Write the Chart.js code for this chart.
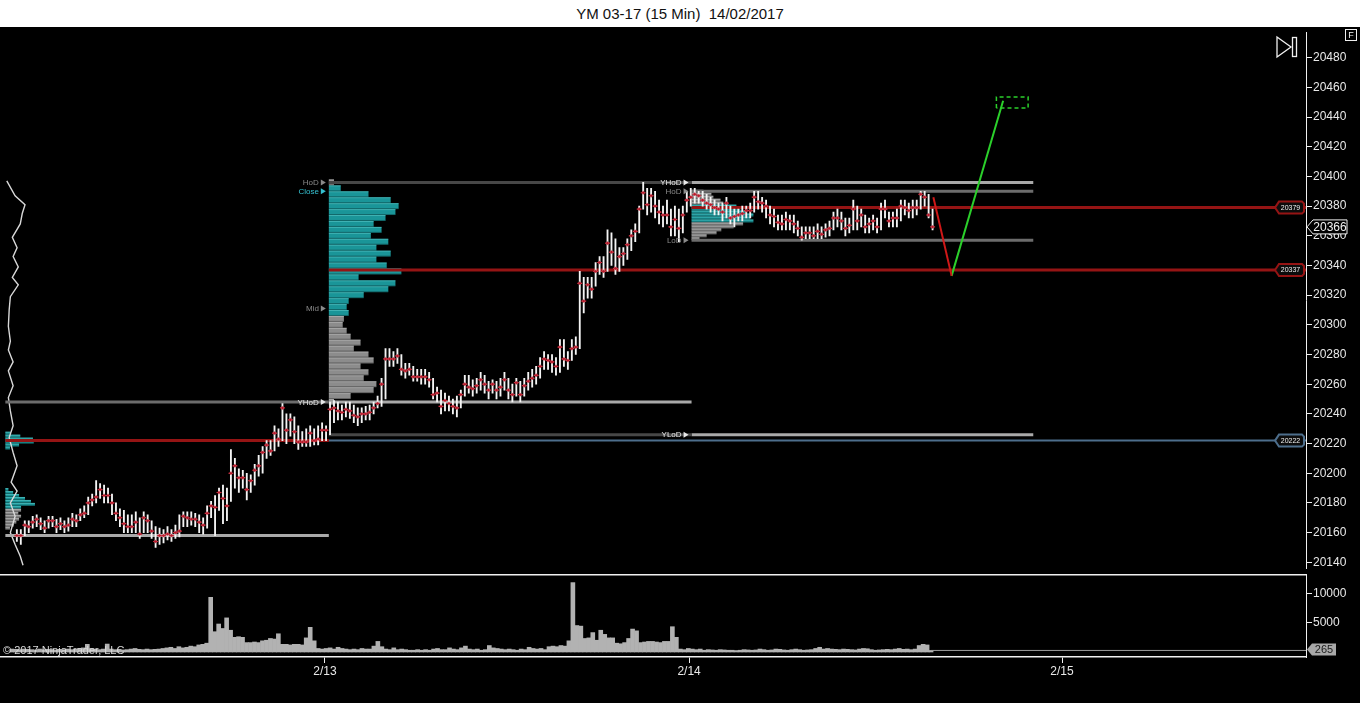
<!DOCTYPE html>
<html>
<head>
<meta charset="utf-8">
<title>YM 03-17 (15 Min)</title>
<script src="https://cdn.jsdelivr.net/npm/chart.js@4.4.1/dist/chart.umd.min.js"></script>
<style>
  html, body { margin: 0; padding: 0; background: #fff; }
  body { width: 1360px; height: 703px; position: relative; overflow: hidden; font-family: "Liberation Sans", Arial, sans-serif; }
  #title { position: absolute; left: 0; top: 0; width: 1360px; height: 27px; line-height: 27px; text-align: center; font-size: 15px; color: #111; white-space: pre; }
  #frame { position: absolute; left: 0; top: 27px; width: 1360px; height: 676px; background: #000; }
  #priceCanvas { position: absolute; left: 0; top: 0; }
  #volCanvas { position: absolute; left: 0; top: 547px; }
</style>
</head>
<body>
<div id="title">YM 03-17 (15 Min)  14/02/2017</div>
<div id="frame">
  <canvas id="priceCanvas" width="1360" height="547"></canvas>
  <canvas id="volCanvas" width="1360" height="129"></canvas>
</div>
<script>
// 15 min bars, 10/02 session (partial), 13/02 session, 14/02 session so far
const closes = [
  20158,20158,20165,20164,20167,20169,20166,20163,20168,20168,
  20164,20166,20164,20165,20169,20168,20172,20173,20180,20182,
  20184,20189,20185,20185,20180,20173,20170,20166,20164,20164,
  20167,20159,20170,20168,20161,20154,20158,20158,20159,20158,
  20160,20161,20171,20170,20169,20169,20167,20165,20173,20178,
  20177,20187,20183,20178,20200,20205,20197,20197,20189,20195,
  20202,20205,20214,20219,20215,20227,20223,20244,20229,20236,
  20228,20221,20221,20221,20227,20222,20223,20229,20229,
  20243,20244,20242,20241,20243,20242,20239,20238,20240,20240,
  20241,20244,20247,20260,20277,20277,20277,20279,20270,20269,
  20270,20265,20265,20265,20265,20263,20253,20254,20245,20249,
  20247,20245,20244,20253,20260,20258,20257,20259,20263,20260,
  20256,20260,20256,20258,20263,20256,20253,20261,20253,20259,
  20262,20264,20266,20272,20277,20276,20275,20272,20285,20277,
  20276,20284,20285,20328,20316,20327,20324,20336,20342,20336,
  20355,20349,20338,20346,20348,20354,20360,20363,20378,20389,
  20381,20387,20380,20376,20374,20374,20366,20371,20365,20374,
  20384,
  20386,20388,20387,20384,20382,20381,20379,20378,20376,20382,
  20372,20373,20374,20375,20377,20377,20386,20383,20382,20380,
  20374,20373,20369,20368,20371,20370,20368,20365,20359,20362,
  20362,20360,20363,20361,20364,20365,20372,20372,20370,20365,
  20367,20378,20370,20374,20366,20368,20370,20366,20378,20378,
  20370,20372,20372,20380,20379,20377,20379,20379,20388,20386,
  20374,20366
];
const highs = [
  20162,20162,20168,20168,20171,20172,20170,20168,20171,20171,
  20169,20170,20168,20170,20173,20172,20176,20178,20184,20186,
  20195,20193,20192,20190,20186,20180,20176,20175,20172,20172,
  20174,20170,20174,20172,20168,20164,20163,20162,20164,20162,
  20165,20172,20174,20174,20174,20173,20172,20170,20178,20181,
  20185,20190,20192,20190,20216,20210,20203,20202,20200,20199,
  20206,20212,20218,20222,20222,20232,20230,20247,20240,20240,
  20238,20232,20228,20230,20232,20230,20232,20234,20232,
  20248,20249,20248,20246,20248,20248,20246,20244,20244,20245,
  20246,20248,20252,20264,20284,20284,20282,20284,20280,20274,
  20274,20272,20270,20270,20270,20268,20264,20258,20256,20254,
  20252,20250,20252,20256,20266,20266,20263,20264,20268,20266,
  20262,20263,20262,20264,20268,20264,20260,20264,20262,20264,
  20268,20270,20272,20278,20282,20280,20280,20278,20290,20290,
  20282,20290,20292,20336,20332,20332,20332,20342,20346,20346,
  20364,20362,20358,20352,20352,20358,20364,20368,20380,20396,
  20392,20392,20390,20384,20380,20384,20378,20380,20378,20380,
  20390,
  20392,20392,20390,20390,20388,20386,20384,20382,20382,20386,
  20380,20378,20378,20380,20380,20382,20390,20390,20386,20384,
  20380,20378,20374,20374,20376,20374,20374,20370,20366,20366,
  20366,20366,20368,20366,20368,20370,20376,20378,20376,20372,
  20372,20384,20380,20378,20374,20372,20374,20372,20382,20384,
  20376,20376,20378,20384,20384,20382,20384,20384,20390,20390,
  20388,20378
];
const lows = [
  20154,20152,20158,20160,20163,20164,20162,20160,20163,20164,
  20160,20162,20160,20161,20164,20164,20168,20170,20172,20178,
  20180,20183,20180,20180,20172,20168,20164,20160,20160,20160,
  20160,20156,20160,20160,20156,20150,20152,20153,20155,20154,
  20156,20157,20164,20164,20165,20164,20160,20159,20163,20170,
  20158,20175,20166,20168,20181,20190,20187,20190,20182,20187,
  20192,20198,20200,20210,20212,20215,20218,20222,20220,20225,
  20220,20216,20218,20218,20218,20219,20219,20222,20222,
  20226,20234,20236,20236,20238,20237,20234,20232,20234,20236,
  20236,20240,20244,20245,20250,20272,20272,20274,20266,20264,
  20266,20262,20262,20260,20260,20258,20250,20248,20240,20242,
  20242,20240,20238,20244,20252,20254,20252,20254,20256,20254,
  20250,20254,20250,20252,20256,20250,20248,20252,20248,20252,
  20256,20258,20260,20264,20270,20270,20268,20266,20268,20272,
  20270,20276,20280,20284,20308,20318,20318,20326,20334,20332,
  20336,20340,20334,20336,20340,20344,20350,20356,20362,20378,
  20374,20376,20372,20368,20366,20368,20360,20360,20356,20362,
  20376,
  20380,20382,20382,20380,20378,20376,20374,20374,20370,20372,
  20368,20366,20370,20370,20372,20372,20376,20378,20376,20372,
  20368,20366,20364,20364,20364,20364,20362,20360,20357,20358,
  20358,20358,20358,20358,20359,20360,20364,20366,20364,20360,
  20362,20364,20364,20366,20362,20362,20364,20362,20364,20372,
  20366,20366,20366,20370,20374,20372,20372,20374,20378,20380,
  20372,20364
];
const volumes = [
  500,450,400,500,450,400,350,500,400,450,
  400,350,450,400,500,400,450,600,700,1300,
  600,500,400,500,1350,500,400,450,350,400,
  500,600,450,400,500,400,450,500,600,700,
  800,600,900,700,800,1000,900,1200,1300,1500,
  9300,3450,4760,4000,5800,3700,2500,2600,2500,1600,
  1600,1700,1600,1900,2000,2300,2200,3100,1300,1300,
  1200,1300,1300,1200,2400,4200,1900,600,500,
  600,700,500,800,600,500,400,500,400,600,
  500,500,1000,1800,900,500,400,700,400,500,
  400,300,300,400,300,400,300,500,600,400,
  400,700,500,400,700,1000,500,400,500,300,
  400,1100,700,600,500,400,500,400,300,500,
  400,800,600,500,600,400,900,1000,900,1100,
  1000,1900,11800,4500,4400,2300,2400,3300,2000,3700,
  3000,2400,2400,1500,1400,1600,2300,3900,3600,1600,
  1700,1800,1800,1700,1600,1800,1800,4300,2500,500,
  400,
  600,500,400,500,300,400,350,300,400,350,
  300,300,250,300,400,350,300,350,500,400,
  300,350,500,450,350,300,400,500,400,300,
  350,400,600,800,500,600,500,450,400,500,
  450,400,350,500,600,550,400,300,350,400,
  450,400,500,600,450,500,400,500,1100,1300,
  1200,265
];

// session starts on the bar axis and their labels
const sessionTicks = [78.7, 170.2, 263.9];
const sessionLabels = ['2/13', '2/14', '2/15'];
const xMin = -2.94, xMax = 325.2;
const priceMin = 20135.6, priceMax = 20497.2;
const volMin = -850, volMax = 13265;

// horizontal levels: price, from bar, to bar, kind
const levelPrices = [20158, 20248, 20248, 20396, 20396, 20390, 20357, 20226, 20226, 20222, 20222, 20379, 20337];
const levelFrom   = [xMin, xMin, 78.7, 78.7, 170.2, 170.2, 170.2, 78.7, 170.2, xMin, 78.7, 170.2, 78.7];
const levelTo     = [78.7, 78.7, 170.2, 170.2, 256.4, 256.4, 256.4, 170.2, 256.4, 78.7, xMax, xMax, xMax];
const levelKinds  = ['light', 'mid', 'light', 'dark', 'light', 'mid', 'mid', 'dark', 'light', 'poc', 'yclose', 'poc', 'poc'];

const labelTexts  = ['HoD', 'Close', 'Mid', 'YHoD', 'YHoD', 'HoD', 'LoD', 'YLoD'];
const labelPrices = [20396, 20390, 20311, 20248, 20396, 20390, 20357, 20226];
const labelAt     = [78.7, 78.7, 78.7, 78.7, 170.2, 170.2, 170.2, 170.2];
const labelKinds  = ['dim', 'close', 'dim', 'bright', 'bright', 'dim', 'dim', 'bright'];

const tagPrices = [20379, 20337, 20222];
const tagKinds  = ['poc', 'poc', 'yclose'];

// volume profiles (size in bars)
const profile13Prices = [20396,20392,20388,20384,20380,20376,20372,20368,20364,20360,20356,20352,20348,20344,20340,20336,20332,20328,20324,20320,20316,20312,20308,20304,20300,20296,20292,20288,20284,20280,20276,20272,20268,20264,20260,20256,20252,20248];
const profile13Size   = [1.3,3,10,15.6,17.6,16.8,14.3,11.3,13.3,10.6,15,12,15.6,12,14.6,18.3,7.5,16.8,15,8.8,5,4.5,5,3.8,3.5,4.5,5.5,8,6.3,10,11.3,8,10,8.8,12,11.3,5.5,1.3];
const profile14Prices = [20390,20388,20386,20384,20382,20380,20378,20376,20374,20372,20370,20368,20366,20364,20362,20360,20358];
const profile14Size   = [3,5,5.5,7.3,8,11.3,12.3,13.6,15.6,14.8,15.6,13,10.6,7.5,6.3,3.8,2];
const leftTipPrices = [20227,20225,20223,20221,20219,20217,20189,20187,20185,20183,20181,20179,20177,20175,20173,20171,20169,20167,20165,20163];
const leftTipSize   = [1.3,3.8,7,7.2,3.5,1.2,0.8,2,3.5,5,6.5,7.5,4,4,3.3,4,3.5,2.8,2.2,1.2];
const leftLinePrices = [20397,20387,20381,20375,20368,20359,20352,20346,20339,20332,20327,20319,20310,20299,20289,20283,20275,20269,20259,20251,20242,20232,20224,20214,20205,20194,20188,20180,20171,20160,20152,20144,20138];
const leftLineSize   = [0.4,2.5,5,4.3,3.8,1.8,3,2,3.3,1.8,3.3,1.3,1,0.8,1.3,0.8,2,0.8,2,0.8,1.3,2,1,2,3,1.5,3,1.3,2.5,1.3,2.5,3.8,4.5];

// drawn projection
const projX = [231.2, 235.8, 248.8];
const projY = [20386, 20333, 20451];
const targetX = [247.1, 255.1];
const targetY = [20446.2, 20453.5];

const levelStyle = {
  light: ['#a9a9a9', 3], mid: ['#6c6c6c', 3], dark: ['#474747', 3],
  poc: ['#951414', 3], yclose: ['#4d6e8c', 2]
};
const labelColor = { dim: '#8a8a8a', close: '#35c0d0', bright: '#e8e8e8' };

Chart.defaults.font.family = '"Liberation Sans", Arial, sans-serif';
Chart.defaults.color = '#e6e6e6';

function fixY(scale) { scale.width = 54; scale.paddingTop = 0; scale.paddingBottom = 0; }

function drawProfile(ctx, xs, ys, anchor, prices, sizes, half, inVA) {
  const x0 = xs.getPixelForValue(anchor);
  prices.forEach((p, i) => {
    const top = ys.getPixelForValue(p + half);
    const bot = ys.getPixelForValue(p - half);
    const x1 = xs.getPixelForValue(anchor + sizes[i]);
    const va = inVA(p);
    ctx.fillStyle = va ? '#1a9598' : '#8c8c8c';
    ctx.fillRect(x0, top, x1 - x0, bot - top);
    ctx.fillStyle = va ? 'rgba(110,215,215,0.45)' : 'rgba(215,215,215,0.4)';
    ctx.fillRect(x0, top, x1 - x0, 1);
    ctx.fillStyle = 'rgba(0,0,0,0.3)';
    ctx.fillRect(x0, bot - 1, x1 - x0, 1);
  });
}

function tagShape(ctx, xl, xr, y, h) {
  ctx.beginPath();
  ctx.moveTo(xl, y);
  ctx.lineTo(xl + 4, y - h / 2);
  ctx.lineTo(xr - 2, y - h / 2);
  ctx.lineTo(xr, y - h / 2 + 2);
  ctx.lineTo(xr, y + h / 2 - 2);
  ctx.lineTo(xr - 2, y + h / 2);
  ctx.lineTo(xl + 4, y + h / 2);
  ctx.closePath();
}

const priceOverlay = {
  id: 'priceOverlay',
  beforeDatasetsDraw(chart) {
    const { ctx, chartArea, scales: { x, y } } = chart;
    ctx.save();
    ctx.beginPath();
    ctx.rect(chartArea.left, chartArea.top, chartArea.right - chartArea.left, chartArea.bottom - chartArea.top);
    ctx.clip();
    drawProfile(ctx, x, y, xMin, leftTipPrices, leftTipSize, 1, p => p >= 20177);
    drawProfile(ctx, x, y, sessionTicks[0], profile13Prices, profile13Size, 2, p => p <= 20392 && p >= 20308);
    drawProfile(ctx, x, y, sessionTicks[1], profile14Prices, profile14Size, 1, p => p <= 20380 && p >= 20370);
    ctx.restore();
  },
  afterDatasetsDraw(chart) {
    const { ctx, scales: { x, y } } = chart;
    ctx.save();
    ctx.font = '8px "Liberation Sans", Arial, sans-serif';
    ctx.textAlign = 'right';
    ctx.textBaseline = 'middle';
    labelTexts.forEach((t, i) => {
      const px = x.getPixelForValue(labelAt[i]) - 3;
      const py = y.getPixelForValue(labelPrices[i]);
      ctx.fillStyle = labelColor[labelKinds[i]];
      ctx.beginPath();
      ctx.moveTo(px - 5, py - 3);
      ctx.lineTo(px, py);
      ctx.lineTo(px - 5, py + 3);
      ctx.closePath();
      ctx.fill();
      ctx.fillText(t, px - 7, py + 0.5);
    });
    ctx.restore();
  },
  afterDraw(chart) {
    const { ctx, chartArea, scales: { y } } = chart;
    const right = chartArea.right;
    ctx.save();
    // level tags
    ctx.font = '7px "Liberation Sans", Arial, sans-serif';
    ctx.textAlign = 'center';
    ctx.textBaseline = 'middle';
    tagPrices.forEach((p, i) => {
      const py = y.getPixelForValue(p);
      tagShape(ctx, right - 31, right - 2, py, 12);
      ctx.fillStyle = '#0c0c0c';
      ctx.fill();
      ctx.lineWidth = 2;
      ctx.strokeStyle = levelStyle[tagKinds[i]][0];
      ctx.stroke();
      ctx.fillStyle = '#f0f0f0';
      ctx.fillText(String(p), right - 15.5, py + 0.5);
    });
    // last price marker
    const last = closes[closes.length - 1];
    const ly = y.getPixelForValue(last);
    ctx.beginPath();
    ctx.moveTo(right + 1, ly);
    ctx.lineTo(right + 7, ly - 7);
    ctx.lineTo(right + 41, ly - 7);
    ctx.lineTo(right + 41, ly + 7);
    ctx.lineTo(right + 7, ly + 7);
    ctx.closePath();
    ctx.fillStyle = '#000';
    ctx.fill();
    ctx.lineWidth = 1;
    ctx.strokeStyle = '#f0f0f0';
    ctx.stroke();
    ctx.font = '12px "Liberation Sans", Arial, sans-serif';
    ctx.fillStyle = '#f0f0f0';
    ctx.fillText(String(last), right + 24, ly + 1);
    // play-to-end icon and F box
    ctx.strokeStyle = '#f0f0f0';
    ctx.lineWidth = 1.3;
    ctx.beginPath();
    ctx.moveTo(1277, 10);
    ctx.lineTo(1291, 20);
    ctx.lineTo(1277, 30);
    ctx.closePath();
    ctx.stroke();
    ctx.strokeRect(1292.5, 10.5, 4, 19);
    ctx.lineWidth = 1;
    ctx.strokeRect(1345.5, 2.5, 11, 11);
    ctx.font = '9px "Liberation Sans", Arial, sans-serif';
    ctx.fillText('F', 1351, 8.5);
    ctx.restore();
  }
};

const volOverlay = {
  id: 'volOverlay',
  afterDatasetsDraw(chart) {
    const { ctx } = chart;
    ctx.save();
    ctx.font = '11px "Liberation Sans", Arial, sans-serif';
    ctx.textBaseline = 'middle';
    ctx.fillStyle = '#d8d8d8';
    ctx.fillText('\u00a9 2017 NinjaTrader, LLC', 3, 77);
    ctx.restore();
  },
  afterDraw(chart) {
    const { ctx, chartArea, scales: { y } } = chart;
    const right = chartArea.right;
    ctx.save();
    ctx.strokeStyle = '#f0f0f0';
    ctx.lineWidth = 1.5;
    ctx.beginPath();
    ctx.moveTo(0, chartArea.top + 0.75);
    ctx.lineTo(right, chartArea.top + 0.75);
    ctx.stroke();
    const lastVol = volumes[volumes.length - 1];
    const vy = y.getPixelForValue(lastVol) - 1;
    ctx.beginPath();
    ctx.moveTo(right + 1, vy);
    ctx.lineTo(right + 6, vy - 6);
    ctx.lineTo(right + 30, vy - 6);
    ctx.lineTo(right + 30, vy + 6);
    ctx.lineTo(right + 6, vy + 6);
    ctx.closePath();
    ctx.fillStyle = '#a8a8a8';
    ctx.fill();
    ctx.font = '11px "Liberation Sans", Arial, sans-serif';
    ctx.fillStyle = '#1a1a1a';
    ctx.textAlign = 'center';
    ctx.textBaseline = 'middle';
    ctx.fillText(String(lastVol), right + 18, vy + 0.5);
    ctx.restore();
  }
};

const line = (data, color, width, order, extra) => Object.assign({
  type: 'line', data, borderColor: color, borderWidth: width,
  pointRadius: 0, tension: 0, fill: false, order
}, extra || {});

const levelSets = levelPrices.map((p, i) => line(
  [{ x: levelFrom[i], y: p }, { x: levelTo[i], y: p }],
  levelStyle[levelKinds[i]][0], levelStyle[levelKinds[i]][1], 5));

const priceChart = new Chart(document.getElementById('priceCanvas'), {
  type: 'bar',
  data: {
    datasets: [
      line(leftLinePrices.map((p, i) => ({ x: xMin + leftLineSize[i], y: p })), '#d8d8d8', 1.4, 6),
      ...levelSets,
      line([{ x: projX[0], y: projY[0] }, { x: projX[1], y: projY[1] }], '#d01818', 2, 4),
      line([{ x: projX[1], y: projY[1] }, { x: projX[2], y: projY[2] }], '#2bd02b', 2, 4),
      line([
        { x: targetX[0], y: targetY[0] }, { x: targetX[0], y: targetY[1] },
        { x: targetX[1], y: targetY[1] }, { x: targetX[1], y: targetY[0] },
        { x: targetX[0], y: targetY[0] }
      ], '#2bd02b', 1.5, 4, { borderDash: [4, 3] }),
      {
        type: 'bar',
        data: closes.map((c, i) => ({ x: i, y: [lows[i], highs[i]] })),
        backgroundColor: '#f4f4f4',
        barThickness: 1.2,
        order: 3
      },
      line(closes.map((c, i) => ({ x: i, y: c })), '#c8202c', 0, 2, {
        showLine: false, pointStyle: 'line', pointRadius: 2.5,
        pointBorderColor: '#c42030', pointBorderWidth: 1.2
      }),
      line(closes.map((c, i) => ({ x: i, y: c })), '#c8202c', 0, 1, {
        showLine: false, pointStyle: 'rectRot', pointRadius: 1.7,
        pointBackgroundColor: '#b41c2c', pointBorderColor: '#e05060', pointBorderWidth: 0.5
      })
    ]
  },
  options: {
    responsive: false,
    animation: false,
    events: [],
    devicePixelRatio: 1,
    layout: { padding: { top: 1, left: 0, right: 0, bottom: 0 } },
    plugins: { legend: { display: false }, tooltip: { enabled: false } },
    scales: {
      x: { type: 'linear', display: false, min: xMin, max: xMax, offset: false, grid: { offset: false } },
      y: {
        position: 'right', min: priceMin, max: priceMax,
        afterFit: fixY,
        grid: { drawOnChartArea: false, color: '#f0f0f0', tickLength: 6 },
        border: { color: '#f0f0f0', width: 1 },
        ticks: {
          stepSize: 20, includeBounds: false, padding: 1,
          color: '#e8e8e8', font: { size: 12 },
          callback: v => String(v)
        }
      }
    }
  },
  plugins: [priceOverlay]
});

const volChart = new Chart(document.getElementById('volCanvas'), {
  type: 'bar',
  data: {
    datasets: [
      {
        type: 'bar',
        data: volumes.map((v, i) => ({ x: i, y: v })),
        backgroundColor: '#b2b2b2',
        barPercentage: 1,
        categoryPercentage: 1,
        order: 2
      },
      line([{ x: volumes.length - 1, y: volumes[volumes.length - 1] }, { x: xMax, y: volumes[volumes.length - 1] }], '#9c9c9c', 1, 1)
    ]
  },
  options: {
    responsive: false,
    animation: false,
    events: [],
    devicePixelRatio: 1,
    layout: { padding: 0 },
    plugins: { legend: { display: false }, tooltip: { enabled: false } },
    scales: {
      x: {
        type: 'linear', position: 'bottom', min: xMin, max: xMax, offset: false,
        afterBuildTicks: scale => { scale.ticks = sessionTicks.map(v => ({ value: v })); },
        afterFit: scale => { scale.height = 46; scale.paddingLeft = 0; scale.paddingRight = 0; },
        grid: { drawOnChartArea: false, offset: false, color: '#f0f0f0', tickLength: 6 },
        border: { color: '#f0f0f0', width: 1.5 },
        ticks: {
          autoSkip: false, maxRotation: 0, padding: 1,
          color: '#e8e8e8', font: { size: 12 },
          callback: (v, i) => sessionLabels[i]
        }
      },
      y: {
        position: 'right', min: volMin, max: volMax,
        afterBuildTicks: scale => { scale.ticks = [{ value: 5000 }, { value: 10000 }]; },
        afterFit: fixY,
        grid: { drawOnChartArea: false, color: '#f0f0f0', tickLength: 6 },
        border: { color: '#f0f0f0', width: 1 },
        ticks: { padding: 1, color: '#e8e8e8', font: { size: 12 }, callback: v => String(v) }
      }
    }
  },
  plugins: [volOverlay]
});
</script>
</body>
</html>
